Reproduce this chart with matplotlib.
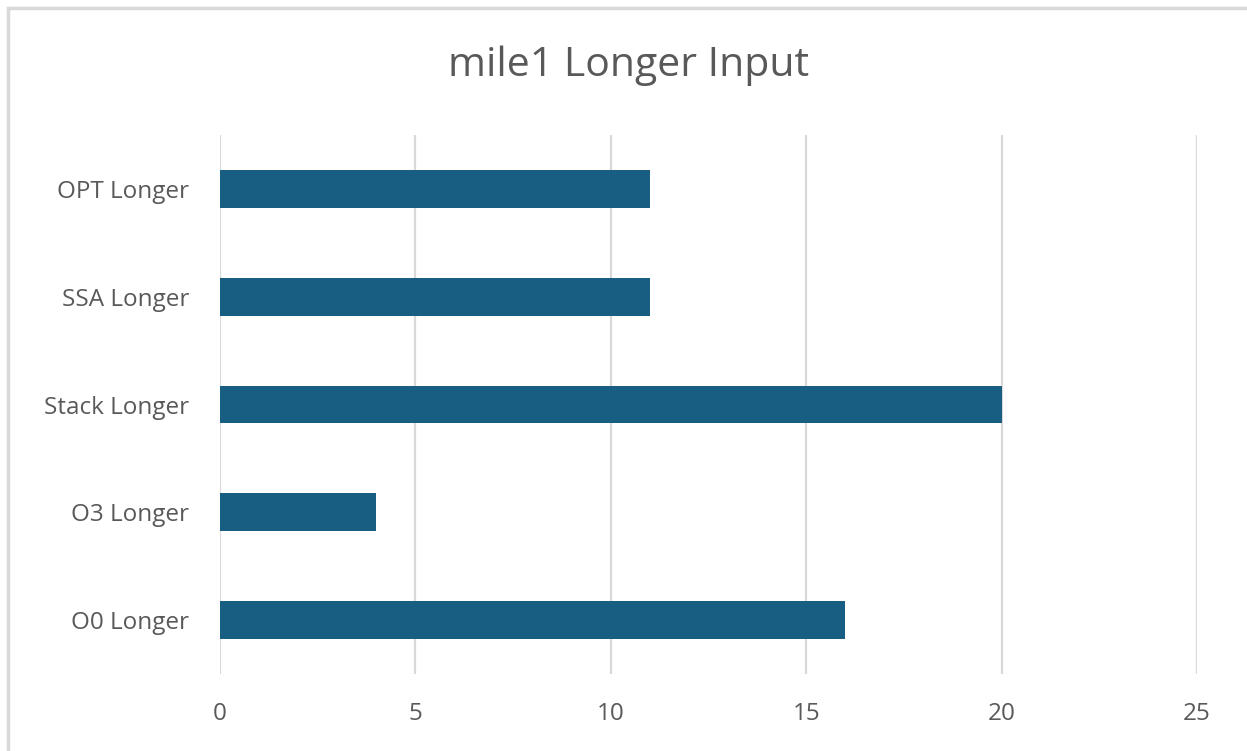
import matplotlib
matplotlib.use("Agg")
import matplotlib.pyplot as plt
from matplotlib.patches import Rectangle

categories = ["O0 Longer", "O3 Longer", "Stack Longer", "SSA Longer", "OPT Longer"]
values = [16, 4, 20, 11, 11]
xticks = [0, 5, 10, 15, 20, 25]

plt.rcParams['font.family'] = ['Open Sans', 'DejaVu Sans']

fig = plt.figure(figsize=(12.47, 7.51), dpi=100)
ax = fig.add_axes([0.1764, 0.1025, 0.7835, 0.7177])

# outer chart frame
fig.patches.append(Rectangle((8 / 1247, -0.1), 1.2, 1 - 8 / 751 + 0.1,
                             transform=fig.transFigure, fill=False,
                             edgecolor="#D9D9D9", linewidth=2.5, zorder=0))

ax.barh(range(len(categories)), values, height=0.35, color="#175E82", zorder=3)
ax.set_yticks(range(len(categories)))
ax.set_yticklabels(categories)
ax.set_ylim(-0.5, len(categories) - 0.5)
ax.set_xlim(0, 25)
ax.set_xticks(xticks)

ax.grid(axis="x", color="#D9D9D9", linewidth=1.6, zorder=0)
for s in ax.spines.values():
    s.set_visible(False)
ax.tick_params(axis="y", length=0, labelsize=17.5, colors="#595959", pad=22)
ax.tick_params(axis="x", length=0, labelsize=17.5, colors="#595959", pad=20)

fig.text(0.504, 0.913, "mile1 Longer Input", ha="center", va="center",
         fontsize=29.5, color="#595959")

fig.savefig("out.png", dpi=100)
